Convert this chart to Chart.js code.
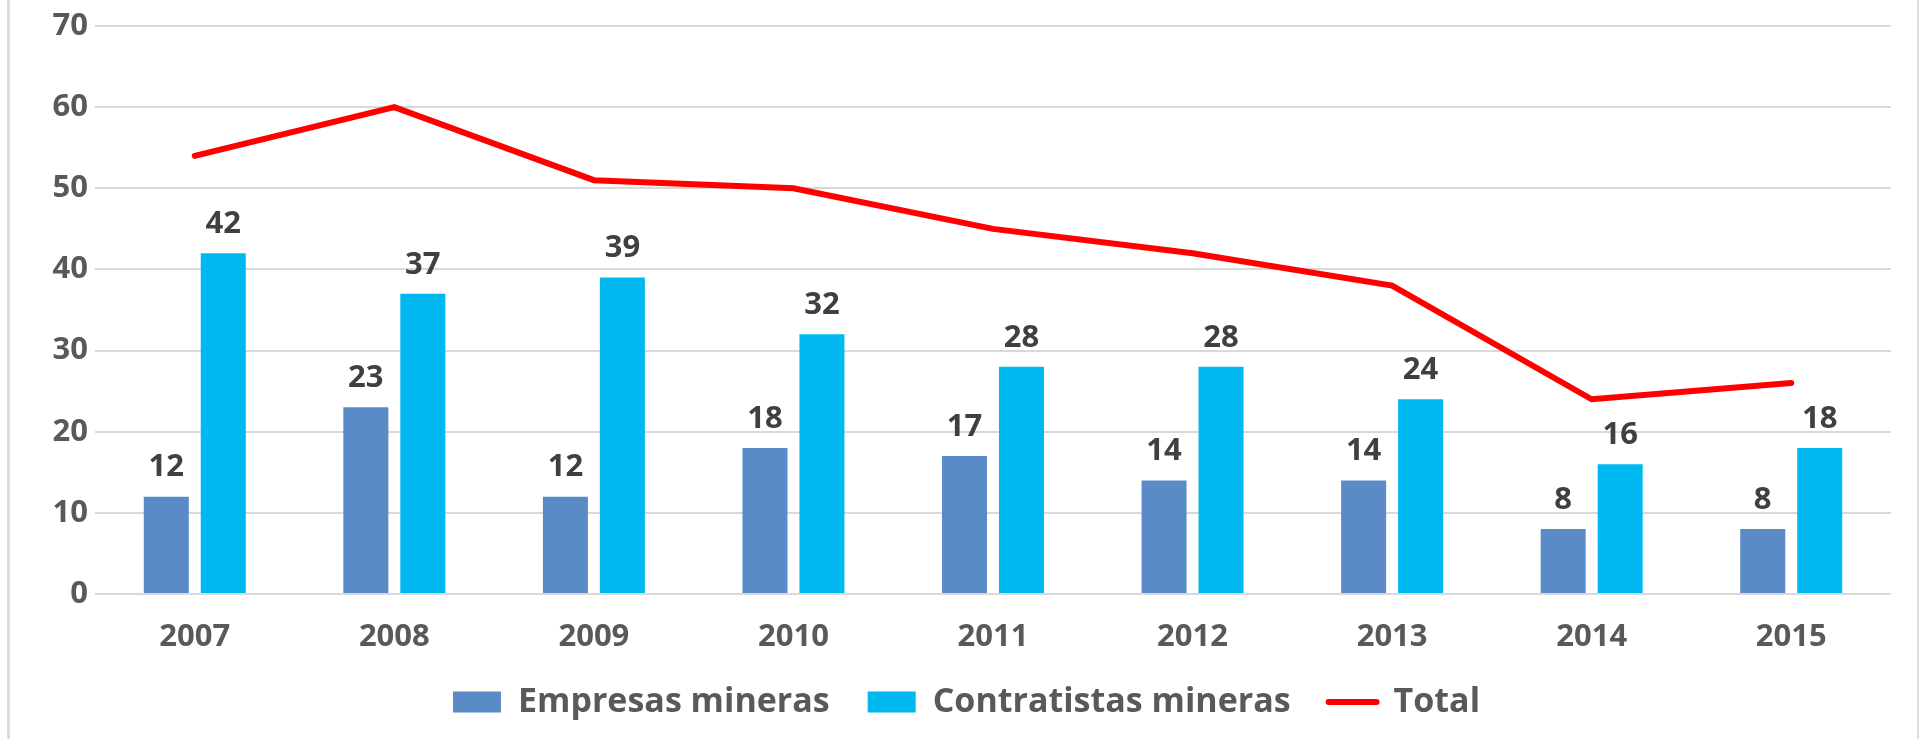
<!DOCTYPE html>
<html>
<head>
<meta charset="utf-8">
<script src="https://cdn.jsdelivr.net/npm/chart.js@4/dist/chart.umd.min.js"></script>
<style>
    body { margin: 0; background: #ffffff; }
    canvas { display: block; }
</style>
</head>
<body>
<canvas id="miGrafico" width="1919" height="739"></canvas>
<script>
// Datos del gráfico
var anios = ["2007", "2008", "2009", "2010", "2011", "2012", "2013", "2014", "2015"];
var empresas_mineras = [12, 23, 12, 18, 17, 14, 14, 8, 8];
var contratistas_mineras = [42, 37, 39, 32, 28, 28, 24, 16, 18];
var total = [54, 60, 51, 50, 45, 42, 38, 24, 26];
var ticks_y = [0, 10, 20, 30, 40, 50, 60, 70];

var fuente = "'Open Sans', 'DejaVu Sans', sans-serif";
Chart.defaults.font.family = fuente;

// Etiquetas de valor encima de las barras
var etiquetas_barras = {
    id: 'etiquetas_barras',
    afterDatasetsDraw: function(grafico) {
        var ctx = grafico.ctx;
        ctx.save();
        ctx.font = "bold 31px " + fuente;
        ctx.fillStyle = '#404040';
        ctx.textAlign = 'center';
        ctx.textBaseline = 'middle';
        grafico.data.datasets.forEach(function(conjunto, i) {
            if (conjunto.type === 'line') return;
            var meta = grafico.getDatasetMeta(i);
            meta.data.forEach(function(barra, j) {
                ctx.fillText(conjunto.data[j], barra.x, barra.y - 29);
            });
        });
        ctx.restore();
    }
};

// Bordes laterales del área del gráfico
var borde_grafico = {
    id: 'borde_grafico',
    beforeDraw: function(grafico) {
        var ctx = grafico.ctx;
        ctx.save();
        ctx.strokeStyle = '#dcdcdc';
        ctx.lineWidth = 3;
        ctx.beginPath();
        ctx.moveTo(8.5, 0);
        ctx.lineTo(8.5, grafico.height);
        ctx.stroke();
        ctx.lineWidth = 2;
        ctx.beginPath();
        ctx.moveTo(1918, 0);
        ctx.lineTo(1918, grafico.height);
        ctx.stroke();
        ctx.restore();
    }
};

var contexto = document.getElementById('miGrafico').getContext('2d');
var miGrafico = new Chart(contexto, {
    type: 'bar',
    data: {
        labels: anios,
        datasets: [{
            label: 'Empresas mineras',
            data: empresas_mineras,
            backgroundColor: '#5A8BC6',
            categoryPercentage: 0.571,
            barPercentage: 0.79
        }, {
            label: 'Contratistas mineras',
            data: contratistas_mineras,
            backgroundColor: '#00B8F0',
            categoryPercentage: 0.571,
            barPercentage: 0.79
        }, {
            type: 'line',
            label: 'Total',
            data: total,
            borderColor: '#FF0000',
            backgroundColor: '#FF0000',
            borderWidth: 6,
            borderCapStyle: 'round',
            borderJoinStyle: 'miter',
            pointRadius: 0,
            tension: 0,
            fill: false
        }]
    },
    options: {
        responsive: false,
        animation: false,
        layout: {
            padding: { left: 42, right: 28, top: 26, bottom: 10 }
        },
        scales: {
            x: {
                grid: { display: false, drawTicks: true, tickLength: 33 },
                border: { display: false },
                ticks: {
                    color: '#595959',
                    padding: 0,
                    font: { size: 31, weight: 'bold', lineHeight: '20px' }
                }
            },
            y: {
                min: 0,
                max: 70,
                afterBuildTicks: function(escala) {
                    escala.ticks = ticks_y.map(function(v) { return { value: v }; });
                },
                afterFit: function(escala) {
                    escala.width = 53;
                },
                grid: { color: '#d9d9d9', lineWidth: 2, drawTicks: false },
                border: { display: false },
                ticks: {
                    color: '#595959',
                    padding: 7,
                    font: { size: 31, weight: 'bold' }
                }
            }
        },
        plugins: {
            tooltip: { enabled: false },
            legend: {
                position: 'bottom',
                labels: {
                    color: '#595959',
                    padding: 38,
                    usePointStyle: true,
                    pointStyleWidth: 48,
                    boxHeight: 21,
                    font: { size: 34, weight: 'bold' },
                    generateLabels: function(grafico) {
                        var items = Chart.defaults.plugins.legend.labels.generateLabels(grafico);
                        items.forEach(function(item) {
                            var conjunto = grafico.data.datasets[item.datasetIndex];
                            if (conjunto.type === 'line') {
                                item.pointStyle = 'line';
                                item.lineWidth = 6;
                                item.strokeStyle = '#FF0000';
                                item.lineCap = 'round';
                            } else {
                                item.pointStyle = 'rect';
                                item.lineWidth = 0;
                            }
                        });
                        return items;
                    }
                }
            }
        }
    },
    plugins: [etiquetas_barras, borde_grafico]
});
</script>
</body>
</html>
